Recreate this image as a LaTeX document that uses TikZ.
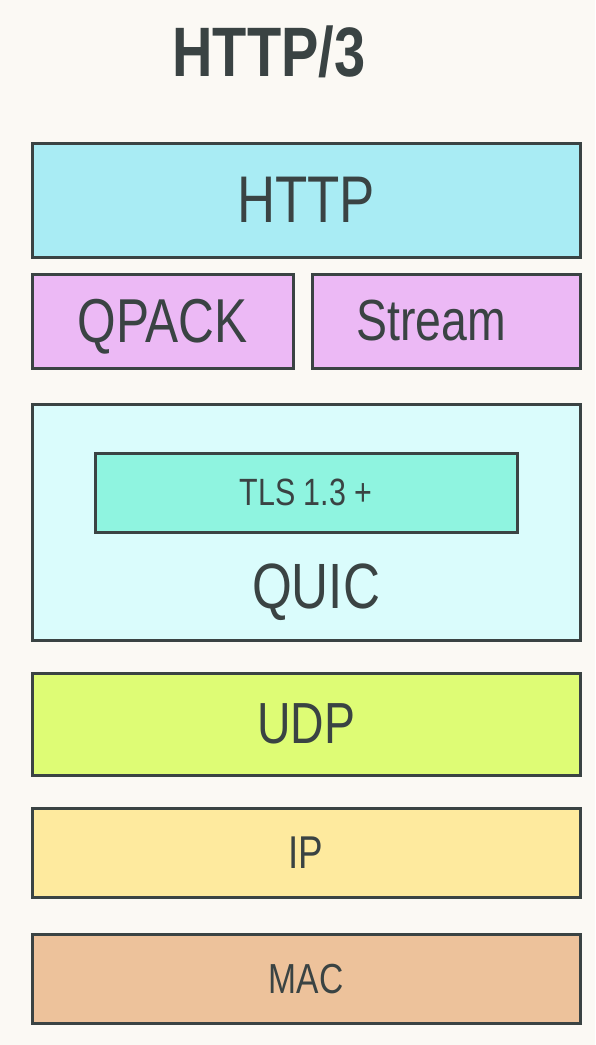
\documentclass[tikz,border=0pt]{standalone}
\usepackage{fontspec}
\newfontfamily\handfont[FakeStretch=0.8]{Liberation Sans}
\usetikzlibrary{positioning}
\definecolor{paper}{HTML}{FBF9F4}
\definecolor{ink}{HTML}{3A4343}
\definecolor{httpblue}{HTML}{A9ECF4}
\definecolor{qpackviolet}{HTML}{ECB9F5}
\definecolor{quiccyan}{HTML}{DAFCFC}
\definecolor{tlsgreen}{HTML}{8FF4E0}
\definecolor{udplime}{HTML}{DEFC75}
\definecolor{ipyellow}{HTML}{FEEA9E}
\definecolor{macorange}{HTML}{EDC29B}
\newcommand{\handsize}[1]{\handfont\fontsize{#1}{#1}\selectfont}

\begin{document}
\begin{tikzpicture}[
    x=1pt, y=-1pt,
    layer/.style={rectangle, draw=ink, line width=3pt, minimum width=548pt,
                  text=ink, inner sep=0pt, text depth=0pt},
  ]
  \fill[paper] (0,0) rectangle (595,1045);
  \node[text=ink, font=\handsize{70}\bfseries] (title) at (269,52) {HTTP/3};
  \node[layer, fill=httpblue, minimum height=114pt, font=\handsize{66}] (http) at (306,200) {HTTP};
  \node[layer, fill=qpackviolet, minimum width=261pt, minimum height=94pt, font=\handsize{62}] (qpack) at (162.5,321) {QPACK};
  \node[layer, fill=qpackviolet, minimum width=268pt, minimum height=94pt, right=16pt of qpack,
        label={[text=ink, font=\handsize{58}, xshift=-15pt]center:Stream}] (stream) {};
  \node[layer, fill=quiccyan, minimum height=236pt] (quic) at (306,522) {};
  \node[layer, fill=tlsgreen, minimum width=422pt, minimum height=79pt, font=\handsize{38}] (tls) at (306,492.5) {TLS 1.3 +};
  \node[text=ink, font=\handsize{64}] (quiclabel) at (316,592) {QUIC};
  \node[layer, fill=udplime, minimum height=102pt, below=30pt of quic, font=\handsize{58}] (udp) {UDP};
  \node[layer, fill=ipyellow, minimum height=89pt, below=30pt of udp, font=\handsize{46}] (ip) {IP};
  \node[layer, fill=macorange, minimum height=89pt, below=34pt of ip, font=\handsize{42}] (mac) {MAC};
\end{tikzpicture}
\end{document}
